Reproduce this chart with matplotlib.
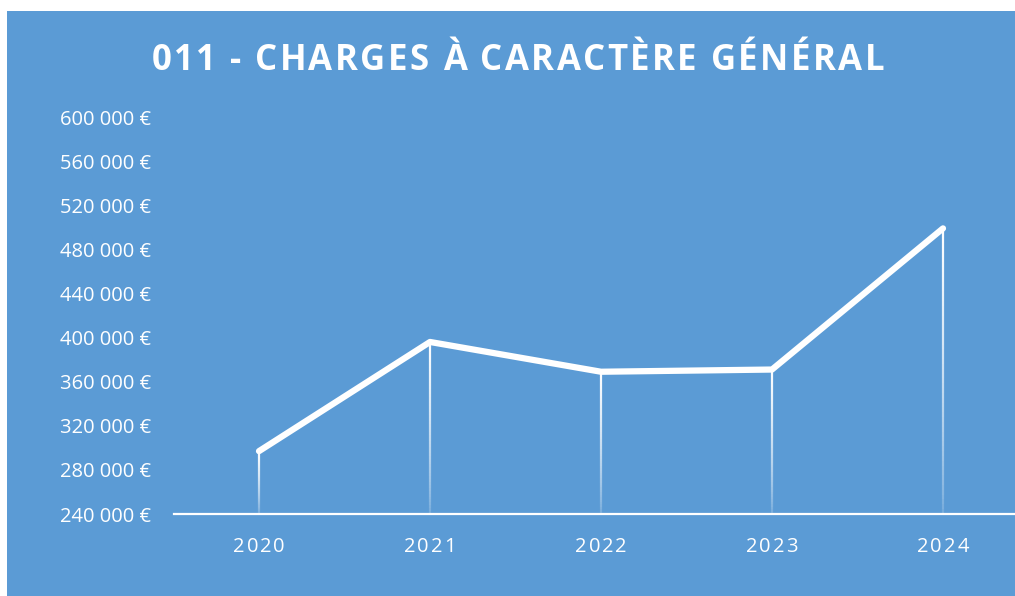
import numpy as np
import matplotlib
matplotlib.use('Agg')
import matplotlib.pyplot as plt
from matplotlib.collections import LineCollection
from matplotlib.patches import Rectangle

# data
years = ['2020', '2021', '2022', '2023', '2024']
charges = [297000, 396000, 369000, 371000, 499000]
y_ticks = [240000, 280000, 320000, 360000, 400000, 440000, 480000, 520000, 560000, 600000]
title = '011 - CHARGES À CARACTÈRE GÉNÉRAL'

BLUE = '#5B9BD5'
W, H = 1015, 596
plt.rcParams['font.family'] = ['Open Sans', 'DejaVu Sans']


def fmt_euro(v):
    return f'{v:,.0f}'.replace(',', ' ') + ' €'


def text_width(fig, s, **kw):
    r = fig.canvas.get_renderer()
    t = fig.text(0, 0, s, **kw)
    w = t.get_window_extent(r).width
    t.remove()
    return w


def spaced_text(fig, x_px, base_px, s, spacing_px=None, total_px=None, **kw):
    """draw s centred at pixel x_px, baseline at pixel row base_px (from top), with letter spacing"""
    space_w = text_width(fig, 'a a', **kw) - text_width(fig, 'aa', **kw)
    widths = [space_w if ch == ' ' else text_width(fig, ch, **kw) for ch in s]
    if total_px is not None:
        spacing_px = (total_px - sum(widths)) / (len(s) - 1)
    full = sum(widths) + spacing_px * (len(s) - 1)
    x = x_px - full / 2
    for ch, w in zip(s, widths):
        if ch != ' ':
            fig.text(x / W, (H - base_px) / H, ch, ha='left', va='baseline', **kw)
        x += w + spacing_px


fig = plt.figure(figsize=(W / 100, H / 100), dpi=100)
fig.patch.set_facecolor('white')
fig.patches.append(Rectangle((7 / W, 0), 1 - 7 / W, (H - 11) / H, transform=fig.transFigure,
                             facecolor=BLUE, edgecolor='none', zorder=-5))

ax_left, ax_right = 173.5, 1028.5
ax_bottom, ax_top = H - 514, H - 117
ax = fig.add_axes([ax_left / W, ax_bottom / H, (ax_right - ax_left) / W, (ax_top - ax_bottom) / H])
ax.set_facecolor('none')
ax.set_xlim(-0.5, 4.5)
ax.set_ylim(240000, 600000)
for side in ['top', 'right', 'left']:
    ax.spines[side].set_visible(False)
ax.spines['bottom'].set_color('white')
ax.spines['bottom'].set_linewidth(1.6)

ax.set_yticks(y_ticks)
ax.set_yticklabels([fmt_euro(v) for v in y_ticks], color='white', fontsize=14.5)
ax.tick_params(axis='y', length=0, pad=16)
ax.set_xticks(range(len(years)))
ax.set_xticklabels([])
ax.tick_params(axis='x', length=0)

# drop lines fading out toward the axis
for i, v in enumerate(charges):
    ys = np.linspace(240000, v, 60)
    segs = [[(i, ys[k]), (i, ys[k + 1])] for k in range(len(ys) - 1)]
    alphas = np.linspace(0.05, 1, len(segs)) ** 0.6
    cols = [(1, 1, 1, a) for a in alphas]
    ax.add_collection(LineCollection(segs, colors=cols, linewidths=1.6, zorder=2))

ax.plot(range(len(years)), charges, color='white', lw=4.5, solid_capstyle='round',
        solid_joinstyle='round', zorder=3, clip_on=False)

fig.canvas.draw()
# x labels, letter spaced
for i, yr in enumerate(years):
    px = ax.transData.transform((i, 240000))[0]
    spaced_text(fig, px, 552, yr, spacing_px=2, color='white', fontsize=14.5)

spaced_text(fig, 518, 70, title, total_px=732, color='white', fontsize=25, fontweight='bold')

fig.savefig('out.png', dpi=100, facecolor='white')
